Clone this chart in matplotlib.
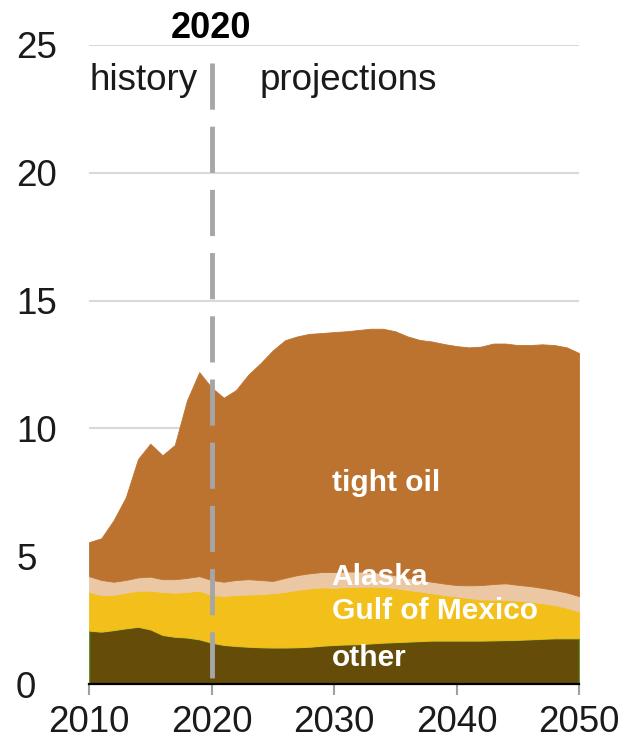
import matplotlib
matplotlib.use('Agg')
import matplotlib.pyplot as plt
import numpy as np

plt.rcParams['font.family'] = ['Liberation Sans', 'DejaVu Sans']

# datos (millones de barriles por dia)
years = np.arange(2010, 2051)
other = [2.09, 2.05, 2.11, 2.18, 2.24, 2.14, 1.92, 1.85, 1.82, 1.75,
         1.62, 1.53, 1.49, 1.46, 1.44, 1.43, 1.43, 1.44, 1.46, 1.50,
         1.53, 1.55, 1.56, 1.59, 1.62, 1.64, 1.66, 1.68, 1.70, 1.70,
         1.70, 1.70, 1.70, 1.71, 1.72, 1.73, 1.75, 1.77, 1.79, 1.79, 1.79]
gulf = [1.51, 1.43, 1.37, 1.39, 1.41, 1.51, 1.68, 1.72, 1.78, 1.90,
        1.86, 1.91, 1.99, 2.04, 2.08, 2.12, 2.17, 2.24, 2.28, 2.28,
        2.23, 2.24, 2.24, 2.22, 2.18, 2.11, 2.02, 1.94, 1.85, 1.78,
        1.72, 1.66, 1.61, 1.59, 1.57, 1.53, 1.47, 1.39, 1.30, 1.19, 1.04]
alaska = [0.62, 0.59, 0.52, 0.50, 0.52, 0.55, 0.50, 0.53, 0.55, 0.57,
          0.59, 0.56, 0.59, 0.60, 0.55, 0.48, 0.55, 0.58, 0.59, 0.60,
          0.62, 0.61, 0.60, 0.57, 0.54, 0.50, 0.47, 0.45, 0.45, 0.45,
          0.45, 0.50, 0.56, 0.61, 0.65, 0.62, 0.61, 0.60, 0.59, 0.60, 0.61]
tight_oil = [1.33, 1.63, 2.40, 3.23, 4.63, 5.20, 4.85, 5.25, 6.95, 7.98,
             7.53, 7.20, 7.43, 8.00, 8.48, 9.02, 9.30, 9.34, 9.37, 9.35,
             9.39, 9.40, 9.45, 9.52, 9.56, 9.55, 9.45, 9.39, 9.40, 9.37,
             9.35, 9.31, 9.33, 9.41, 9.38, 9.38, 9.43, 9.53, 9.58, 9.59, 9.51]

labels = ['other', 'Gulf of Mexico', 'Alaska', 'tight oil']
colors = ['#654D09', '#F3BF1B', '#EBC7A3', '#BD7330']
yticks = [0, 5, 10, 15, 20, 25]
xticks = [2010, 2020, 2030, 2040, 2050]

fig = plt.figure(figsize=(6.24, 7.49), dpi=100)
ax = fig.add_axes([89 / 624, 1 - 684 / 749, 490 / 624, 639 / 749])

polys = ax.stackplot(years, other, gulf, alaska, tight_oil, colors=colors, zorder=2)
for p, c in zip(polys, colors):
    p.set_edgecolor(c)
    p.set_linewidth(0.6)
polys[0].set_edgecolor('#5E9432')
polys[0].set_linewidth(1.0)

ax.set_xlim(2010, 2050)
ax.set_ylim(0, 25)
ax.set_yticks(yticks)
ax.set_xticks(xticks)
ax.yaxis.grid(True, color='#D9D9D9', lw=1.5)
ax.set_axisbelow(True)

for s in ['left', 'right', 'top']:
    ax.spines[s].set_visible(False)
ax.spines['bottom'].set_color('black')
ax.spines['bottom'].set_linewidth(1.6)
ax.spines['bottom'].set_zorder(5)

ax.tick_params(axis='y', length=0, pad=52.5, labelsize=26.5, labelcolor='#1A1A1A')
for lab in ax.get_yticklabels():
    lab.set_horizontalalignment('left')
ax.tick_params(axis='x', length=8, width=1.5, color='#A0A0A0', pad=7,
               labelsize=26.5, labelcolor='#1A1A1A')

# linea vertical historia / proyecciones
ax.plot([2020, 2020], [24.3, 0], color='#A6A6A6', lw=3.5, dashes=(9.5, 3.5),
        zorder=4, clip_on=False)
ax.text(2020, 25.65, '2020', ha='center', va='center', fontsize=26,
        fontweight='bold', color='black', clip_on=False)
ax.text(2010.05, 23.24, 'history', ha='left', va='baseline', fontsize=26.5,
        color='#1A1A1A')
ax.text(2023.95, 23.24, 'projections', ha='left', va='baseline', fontsize=26.5,
        color='#1A1A1A')

# etiquetas de las series
label_y = [1.0, 2.84, 4.2, 7.85]
for lab, yy in zip(labels, label_y):
    ax.text(2029.8, yy, lab, ha='left', va='center', fontsize=21.5,
            fontweight='bold', color='white', zorder=6)

plt.savefig('out.png', dpi=100)
